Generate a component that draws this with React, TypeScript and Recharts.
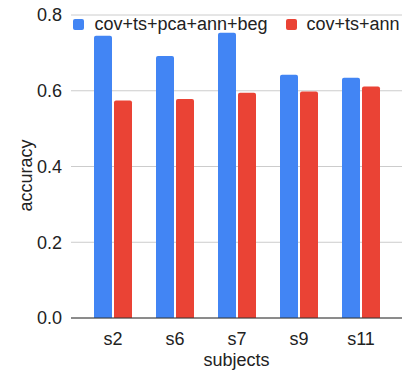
import React from "react";
import { BarChart, Bar, XAxis, YAxis, CartesianGrid } from "recharts";

const subjects = ["s2", "s6", "s7", "s9", "s11"];
const fullPipeline = [0.745, 0.692, 0.753, 0.642, 0.634];
const basePipeline = [0.574, 0.578, 0.595, 0.598, 0.611];
const yTicks = [0, 0.2, 0.4, 0.6, 0.8];

const BLUE = "#4285F4";
const RED = "#EA4335";
const FONT = "'Liberation Sans', Arial, sans-serif";

const seriesInfo = [
  { key: "full", name: "cov+ts+pca+ann+beg", color: BLUE },
  { key: "base", name: "cov+ts+ann", color: RED },
];

const data = subjects.map((s, i) => ({
  subject: s,
  full: fullPipeline[i],
  base: basePipeline[i],
}));

// legend sits inside the plot area, so keep it out of the chart's layout
function ChartLegend() {
  return (
    <div
      style={{
        position: "absolute",
        top: 14,
        left: 71,
        width: 331,
        display: "flex",
        justifyContent: "center",
        alignItems: "center",
        fontSize: 18,
        color: "#222",
        lineHeight: "20px",
      }}
    >
      {seriesInfo.map((s, i) => (
        <div key={s.key} style={{ display: "flex", alignItems: "center", marginLeft: i ? 18 : 0 }}>
          <span style={{ width: 11, height: 11, background: s.color, borderRadius: 2, marginRight: 10, display: "inline-block" }} />
          <span>{s.name}</span>
        </div>
      ))}
    </div>
  );
}

export default function App() {
  return (
    <div style={{ fontFamily: FONT, position: "relative", width: 408, height: 371 }}>
      <style>{"body{margin:0}"}</style>
      <BarChart
        width={408}
        height={371}
        data={data}
        margin={{ top: 15, right: 6, left: 11, bottom: 0 }}
        barGap={2}
        barSize={18}
      >
        <CartesianGrid vertical={false} stroke="#cccccc" />
        <XAxis
          dataKey="subject"
          height={53}
          padding={{ left: 11, right: 10 }}
          tickLine={false}
          tickMargin={8}
          stroke="#333"
          tick={{ fill: "#222", fontSize: 18 }}
          label={{ value: "subjects", position: "insideBottom", offset: 5, fill: "#222", fontSize: 18 }}
        />
        <YAxis
          width={60}
          domain={[0, 0.8]}
          ticks={yTicks}
          tickFormatter={(v: number) => v.toFixed(1)}
          axisLine={false}
          tickLine={false}
          tickMargin={3}
          tick={{ fill: "#222", fontSize: 18 }}
          label={{
            content: ({ viewBox }: any) => (
              <text
                x={viewBox.x + 15}
                y={viewBox.y + viewBox.height / 2 + 9}
                transform={`rotate(-90 ${viewBox.x + 15} ${viewBox.y + viewBox.height / 2 + 9})`}
                textAnchor="middle"
                dominantBaseline="central"
                fill="#222"
                fontSize={18}
              >
                accuracy
              </text>
            ),
          }}
        />
        {seriesInfo.map((s) => (
          <Bar
            key={s.key}
            dataKey={s.key}
            name={s.name}
            fill={s.color}
            radius={[2, 2, 0, 0]}
            isAnimationActive={false}
          />
        ))}
      </BarChart>
      <ChartLegend />
    </div>
  );
}
